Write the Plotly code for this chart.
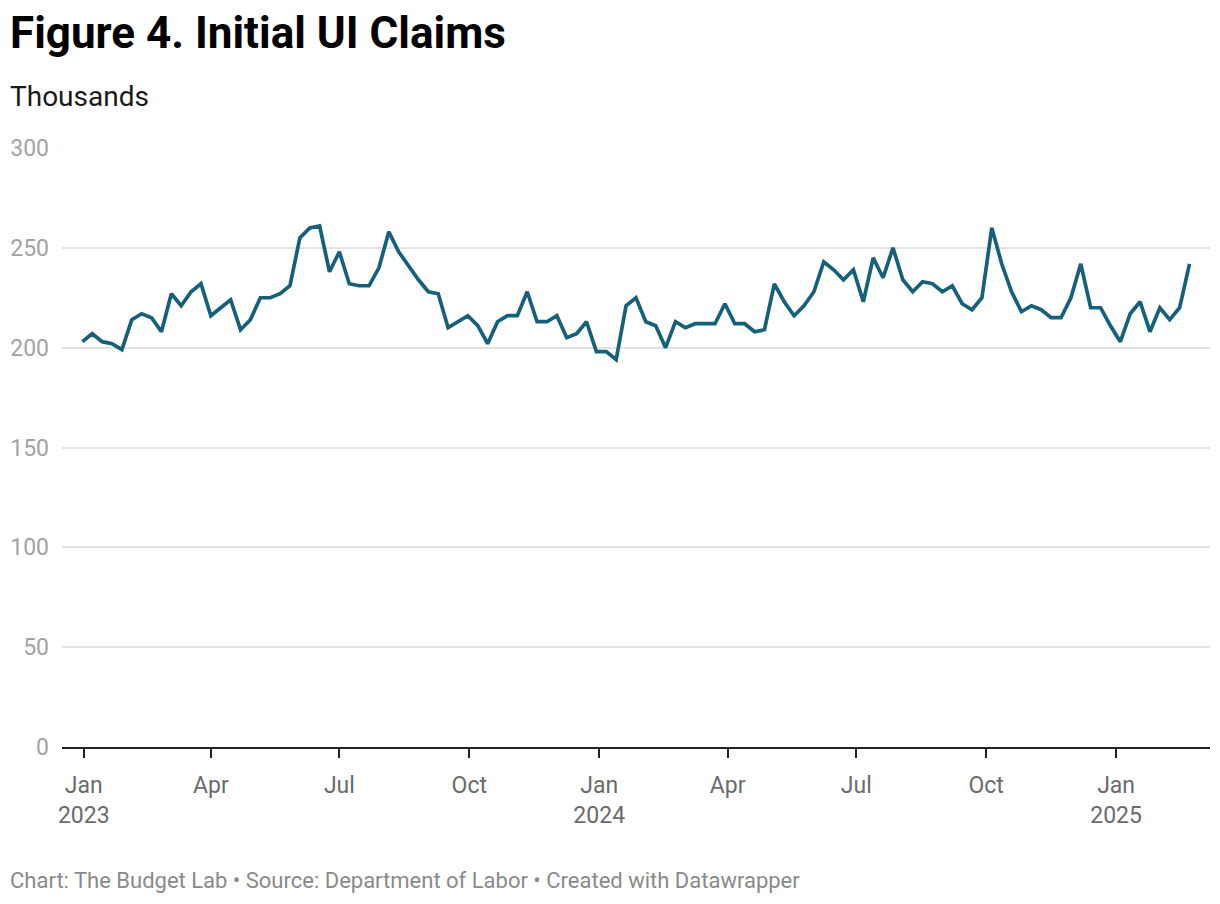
import pandas as pd
import plotly.graph_objects as go

# Weekly initial UI claims (thousands), week ending Saturdays
start_week = "2022-12-31"
claims = [
    203, 207, 203, 202, 199, 214, 217, 215, 208, 227, 221, 228, 232, 216, 220, 224,
    209, 214, 225, 225, 227, 231, 255, 260, 261, 238, 248, 232, 231, 231, 240, 258,
    248, 241, 234, 228, 227, 210, 213, 216, 211, 202, 213, 216, 216, 228, 213, 213,
    216, 205, 207, 213, 198, 198, 194, 221, 225, 213, 211, 200, 213, 210, 212, 212,
    212, 222, 212, 212, 208, 209, 232, 223, 216, 221, 228, 243, 239, 234, 239, 223,
    245, 235, 250, 234, 228, 233, 232, 228, 231, 222, 219, 225, 260, 242, 228, 218,
    221, 219, 215, 215, 225, 242, 220, 220, 211, 203, 217, 223, 208, 220, 214, 220,
    242,
]
dates = pd.date_range(start_week, periods=len(claims), freq="7D")

tick_dates = ["2023-01-01", "2023-04-01", "2023-07-01", "2023-10-01",
              "2024-01-01", "2024-04-01", "2024-07-01", "2024-10-01", "2025-01-01"]
tick_labels = ["Jan<br>2023", "Apr", "Jul", "Oct", "Jan<br>2024", "Apr", "Jul", "Oct", "Jan<br>2025"]
y_ticks = [0, 50, 100, 150, 200, 250, 300]

title = "Figure 4. Initial UI Claims"
subtitle = "Thousands"
footer = "Chart: The Budget Lab • Source: Department of Labor • Created with Datawrapper"

W, H = 1220, 904
L, R, T, B = 62, 10, 148, 157
pw, ph = W - L - R, H - T - B

def px(x):
    return (x - L) / pw

def py(y):
    return (H - B - y) / ph

fig = go.Figure()
fig.add_trace(go.Scatter(
    x=dates, y=claims, mode="lines",
    line=dict(color="#15607a", width=3.7),
    hoverinfo="x+y",
))

fig.update_layout(
    width=W, height=H,
    margin=dict(l=L, r=R, t=T, b=B),
    paper_bgcolor="white", plot_bgcolor="white",
    font=dict(family="Roboto", color="#333"),
    showlegend=False,
    xaxis=dict(
        range=["2022-12-16 14:00", "2025-03-08 12:00"],
        tickvals=tick_dates, ticktext=tick_labels,
        showgrid=False, zeroline=False,
        showline=True, linecolor="#222", linewidth=2,
        ticks="outside", ticklen=9, tickwidth=2, tickcolor="#222",
        ticklabelstandoff=7,
        tickfont=dict(family="Roboto", size=23, color="#6b6b6b"),
    ),
    yaxis=dict(
        range=[0, 300], tickvals=y_ticks,
        showgrid=True, gridcolor="#e3e3e3", gridwidth=2,
        zeroline=False, showline=False, ticks="",
        ticklabelstandoff=12,
        tickfont=dict(family="Roboto", size=23, color="#a3a3a3"),
    ),
    annotations=[
        dict(text=f"<b>{title}</b>", xref="paper", yref="paper",
             x=px(8), y=py(33), xanchor="left", yanchor="middle",
             showarrow=False, font=dict(family="Roboto", size=44, color="#000")),
        dict(text=subtitle, xref="paper", yref="paper",
             x=px(8), y=py(97), xanchor="left", yanchor="middle",
             showarrow=False, font=dict(family="Roboto", size=28, color="#1a1a1a")),
        dict(text=footer, xref="paper", yref="paper",
             x=px(8), y=py(880), xanchor="left", yanchor="middle",
             showarrow=False, font=dict(family="Roboto", size=22, color="#8a8a8a")),
    ],
)

fig.write_html("out.html", config={"displayModeBar": False},
               post_script="document.body.style.margin='0';")
